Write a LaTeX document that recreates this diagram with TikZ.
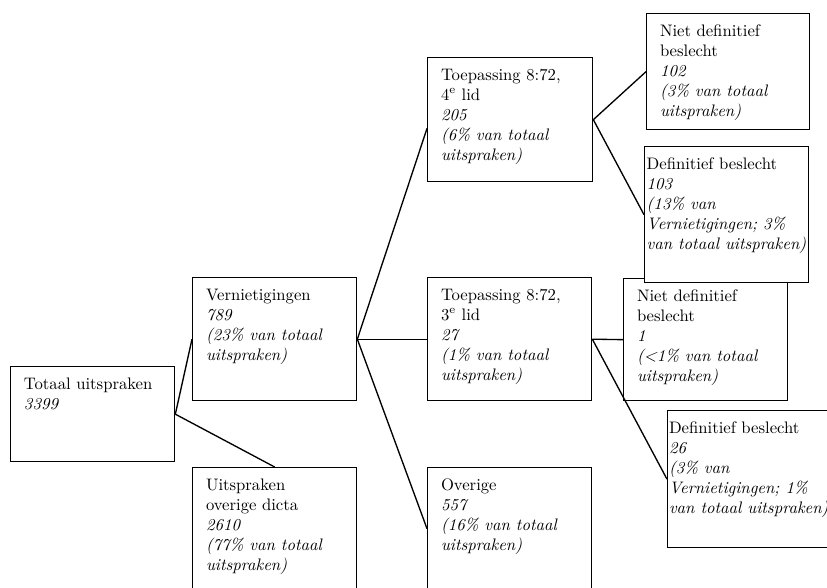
\documentclass[tikz,border=0pt]{standalone}
\newcommand{\celltext}[3]{\parbox[t][#2][t]{#1}{\begin{tabular}[t]{@{}l@{}}#3\end{tabular}}}
\begin{document}
\begin{tikzpicture}[x=0.6pt,y=-0.6pt,
  cell/.style={draw,line width=0.8pt,fill=white,anchor=north west,inner xsep=8pt,inner ysep=5pt},
  link/.style={line width=0.8pt}]
  \useasboundingbox (0,0) rectangle (827,587);
  \clip (0,0) rectangle (827,587);
  \node[cell] (totaal) at (10,366) {\celltext{82.4pt}{47pt}{Totaal uitspraken\\ \textit{3399}}};
  \node[cell] (vern) at (192,277) {\celltext{82.4pt}{63.8pt}{Vernietigingen\\ \textit{789}\\ \textit{(23\% van totaal}\\ \textit{uitspraken)}}};
  \node[cell] (dicta) at (192,467) {\celltext{82.4pt}{63.2pt}{Uitspraken\\ overige dicta\\ \textit{2610}\\ \textit{(77\% van totaal}\\ \textit{uitspraken)}}};
  \node[cell] (lidvier) at (427,57) {\celltext{83pt}{64.4pt}{Toepassing 8:72,\\ 4\textsuperscript{e} lid\\ \textit{205}\\ \textit{(6\% van totaal}\\ \textit{uitspraken)}}};
  \node[cell] (liddrie) at (427,277) {\celltext{82.4pt}{63.8pt}{Toepassing 8:72,\\ 3\textsuperscript{e} lid\\ \textit{27}\\ \textit{(1\% van totaal}\\ \textit{uitspraken)}}};
  \node[cell] (overige) at (427,467) {\celltext{82.4pt}{63.2pt}{Overige\\ \textit{557}\\ \textit{(16\% van totaal}\\ \textit{uitspraken)}}};
  \node[cell] (nietvier) at (646,13) {\celltext{81.8pt}{59.6pt}{Niet definitief\\ beslecht\\ \textit{102}\\ \textit{(3\% van totaal}\\ \textit{uitspraken)}}};
  \node[cell] (nietdrie) at (623,278) {\celltext{82.4pt}{63.2pt}{Niet definitief\\ beslecht\\ \textit{1}\\ \textit{(<1\% van totaal}\\ \textit{uitspraken)}}};
  \node[cell,inner xsep=1.2pt] (defvier) at (644,146) {\celltext{96pt}{71.6pt}{Definitief beslecht\\ \textit{103}\\ \textit{(13\% van}\\ \textit{Vernietigingen; 3\%}\\ \textit{van totaal uitspraken)}}};
  \node[cell,inner xsep=0.8pt] (defdrie) at (667,410) {\celltext{106.4pt}{72.2pt}{Definitief beslecht\\ \textit{26}\\ \textit{(3\% van}\\ \textit{Vernietigingen; 1\%}\\ \textit{van totaal uitspraken)}}};
  \draw[link] (totaal.east) -- (vern.west);
  \draw[link] (totaal.east) -- (dicta.north);
  \draw[link] (vern.east) -- (lidvier.186);
  \draw[link] (vern.east) -- (liddrie.west);
  \draw[link] (vern.east) -- (overige.west);
  \draw[link] (lidvier.east) -- (nietvier.west);
  \draw[link] (lidvier.east) -- (defvier.west);
  \draw[link] (liddrie.east) -- (nietdrie.west);
  \draw[link] (liddrie.east) -- (defdrie.west);
\end{tikzpicture}
\end{document}
